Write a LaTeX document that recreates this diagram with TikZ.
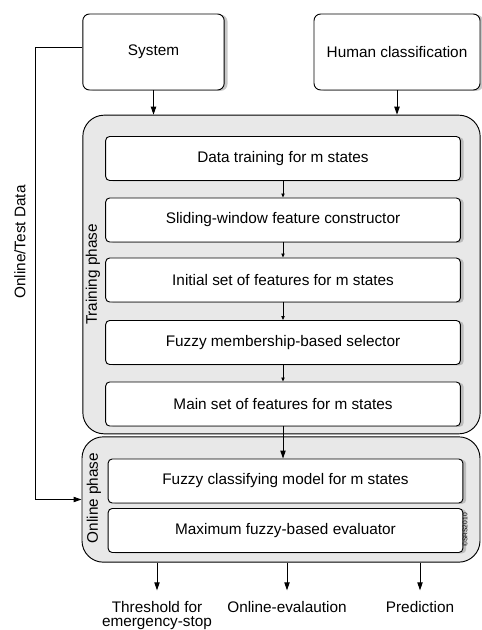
\documentclass[tikz,border=0pt]{standalone}
\usepackage{fontspec}
\setmainfont{Liberation Sans}
\usetikzlibrary{arrows.meta,shadows}

\tikzset{
  boxshadow/.style={drop shadow={shadow xshift=2.5pt, shadow yshift=-0.6pt, fill=gray!80, opacity=0.55}},
  stage/.style={draw, fill=white, rounded corners=3pt, line width=0.7pt,
    minimum width=266pt, minimum height=33pt, boxshadow},
  source/.style={draw, fill=white, rounded corners=5pt, line width=0.7pt,
    minimum height=57pt, boxshadow},
  phase/.style={draw, fill=gray!18, rounded corners=16pt, line width=0.7pt},
  flow/.style={-{Triangle[length=6pt,width=4pt]}, line width=0.7pt},
  link/.style={-{Triangle[length=3pt,width=2.5pt]}, line width=0.6pt},
  txt/.style={font=\fontsize{11.5}{10.5}\selectfont}
}

\begin{document}
\begin{tikzpicture}[x=0.75pt,y=-0.75pt,txt]
	\useasboundingbox (0,0) rectangle (481,630);
	% inputs
	\node[source, minimum width=106pt] (sys) at (153.5,52) {System};
	\node[source, minimum width=124.5pt] (hum) at (397,52) {Human classification};
	% phases
	\node[phase, minimum width=298pt, minimum height=239pt] (train) at (281.5,274.5) {};
	\node[phase, minimum width=298.5pt, minimum height=94pt] (online) at (281,499.5) {};
	\node[rotate=90] (trainlbl) at (93,274.5) {Training phase};
	\node[rotate=90] (onlinelbl) at (94,498) {Online phase};
	\foreach \i/\y/\text in
	{
		1/158.5/Data training for m states,
		2/220/Sliding-window feature constructor,
		3/280/Initial set of features for m states,
		4/342.5/Fuzzy membership-based selector,
		5/404/Main set of features for m states
	}
	{
		\node[stage] (t\i) at (283,\y) {\text};
	}
	\node[stage] (on1) at (285.5,481) {Fuzzy classifying model for m states};
	\node[stage] (on2) at (285.5,530.5) {Maximum fuzzy-based evaluator};
	\node[rotate=90, font=\fontsize{5}{5}\selectfont, inner sep=0pt] (mark) at (465,530) {\textcopyright SRS2010};
	\foreach \a/\b in {t1/t2, t2/t3, t3/t4, t4/t5}
		\draw[link] (\a) -- (\b);
	\draw[flow] (t5.south) -- (t5.south |- on1.north);
	\draw[flow] (sys.south) -- (sys.south |- train.north);
	\draw[flow] (hum.south) -- (hum.south |- train.north);
	% test data path
	\draw[flow] ([yshift=3.5pt]sys.west) -- ++(-47,0) |- (online.west);
	\node[rotate=90] (testlbl) at (20,242) {Online/Test Data};
	% outputs
	\node[anchor=north, inner sep=0pt, align=center] (thr) at (157,601) {Threshold for\\emergency-stop};
	\node[anchor=north, inner sep=0pt] (eval) at (287,601) {Online-evalaution};
	\node[anchor=north, inner sep=0pt] (pred) at (420,601) {Prediction};
	\foreach \o in {thr, eval, pred}
		\draw[flow, shorten >=8pt] (online.south -| \o.north) -- (\o.north);
\end{tikzpicture}
\end{document}
